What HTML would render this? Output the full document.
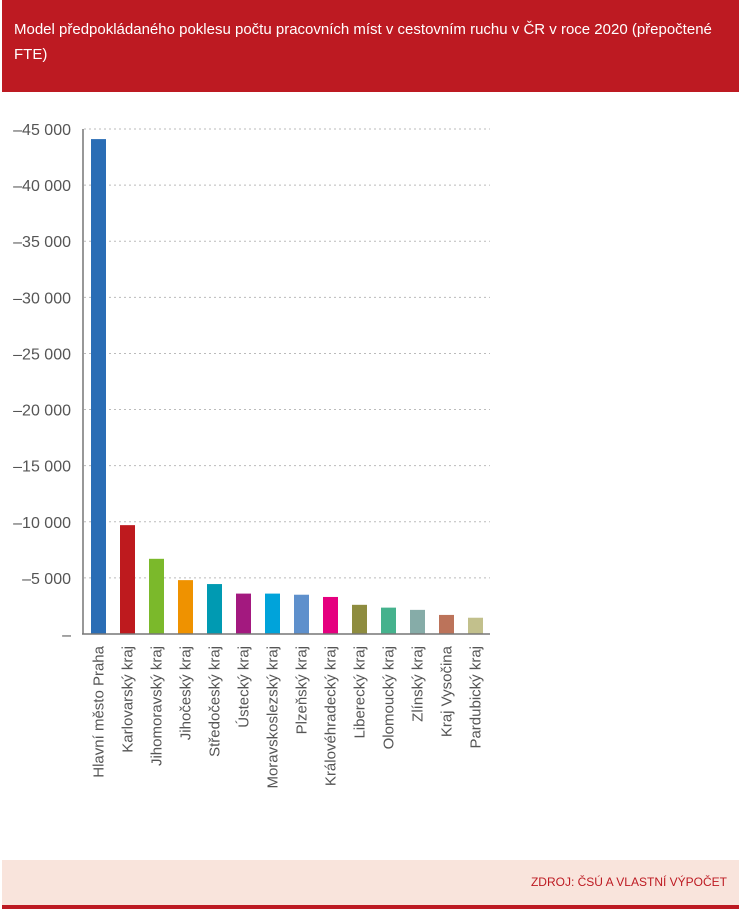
<!DOCTYPE html>
<html><head><meta charset="utf-8"><style>
body{margin:0;width:745px;height:915px;background:#fff;font-family:"Liberation Sans",sans-serif;position:relative;overflow:hidden}
#hdr{position:absolute;left:2px;top:0;width:737px;height:92px;background:#bd1a22;color:#fff;font-size:15px;line-height:25px;box-sizing:border-box;padding:17px 12px}
#ftr{position:absolute;left:2px;top:860px;width:737px;height:45px;background:#f9e4dc;border-bottom:4px solid #bd1a22}
#src{position:absolute;right:12px;top:15px;font-size:12px;color:#bd1a22}
</style></head><body>
<div id="hdr">Model předpokládaného poklesu počtu pracovních míst v cestovním ruchu v ČR v roce 2020 (přepočtené FTE)</div>
<svg id="chart" width="745" height="915" style="position:absolute;left:0;top:0"></svg>
<div id="ftr"><span id="src">ZDROJ: ČSÚ A VLASTNÍ VÝPOČET</span></div>
<script>
const categories=["Hlavní město Praha","Karlovarský kraj","Jihomoravský kraj","Jihočeský kraj","Středočeský kraj","Ústecký kraj","Moravskoslezský kraj","Plzeňský kraj","Královéhradecký kraj","Liberecký kraj","Olomoucký kraj","Zlínský kraj","Kraj Vysočina","Pardubický kraj"];
const values=[-44100,-9700,-6700,-4800,-4450,-3600,-3600,-3500,-3300,-2600,-2350,-2150,-1700,-1450];
const colors=["#2a6db5","#be1a1e","#7bb92b","#ef9200","#009ab2","#a3197f","#00a3da","#5e90cc","#e5007f","#8e8c3f","#45b28d","#86aca8","#bc735a","#c2c08c"];
const ticks=[0,-5000,-10000,-15000,-20000,-25000,-30000,-35000,-40000,-45000];
const tickLabels=["–","–5 000","–10 000","–15 000","–20 000","–25 000","–30 000","–35 000","–40 000","–45 000"];
const NS="http://www.w3.org/2000/svg",svg=document.getElementById('chart');
const x0=84,x1=490,y0=634,y1=129,step=(x1-x0)/categories.length,bw=15;
const yS=v=>y0+(v/-45000)*(y1-y0);
const xS=i=>x0+step*(i+0.5);
function mk(t,a){const e=document.createElementNS(NS,t);for(const k in a)e.setAttribute(k,a[k]);svg.appendChild(e);return e;}
ticks.forEach((t,i)=>{
 if(t!==0){const g=mk('line',{x1:x0,x2:x1,y1:yS(t),y2:yS(t),stroke:'#bbb','stroke-dasharray':'2,3'});
 
 }
 const tx=mk('text',{x:71,y:yS(t)+6,'text-anchor':'end','font-size':'16',fill:'#555','font-family':'Liberation Sans, sans-serif'});
 tx.textContent=tickLabels[i];
 
 
});
values.forEach((v,i)=>{
 const r=mk('rect',{x:xS(i)-bw/2,y:yS(v),width:bw,height:y0-yS(v),fill:colors[i]});
 
 
 const cx=xS(i)+5,cy=646;
 const t=mk('text',{x:cx,y:cy,transform:`rotate(-90 ${cx} ${cy})`,'text-anchor':'end','font-size':'15',fill:'#555','font-family':'Liberation Sans, sans-serif'});
 t.textContent=categories[i];
 
 
});
const ax=mk('line',{x1:x0-1,x2:x0-1,y1:y1,y2:y0,stroke:'#777','stroke-width':1.5});


const bx=mk('line',{x1:x0-2,x2:x1,y1:y0,y2:y0,stroke:'#777','stroke-width':1.5});


</script>
</body></html>
